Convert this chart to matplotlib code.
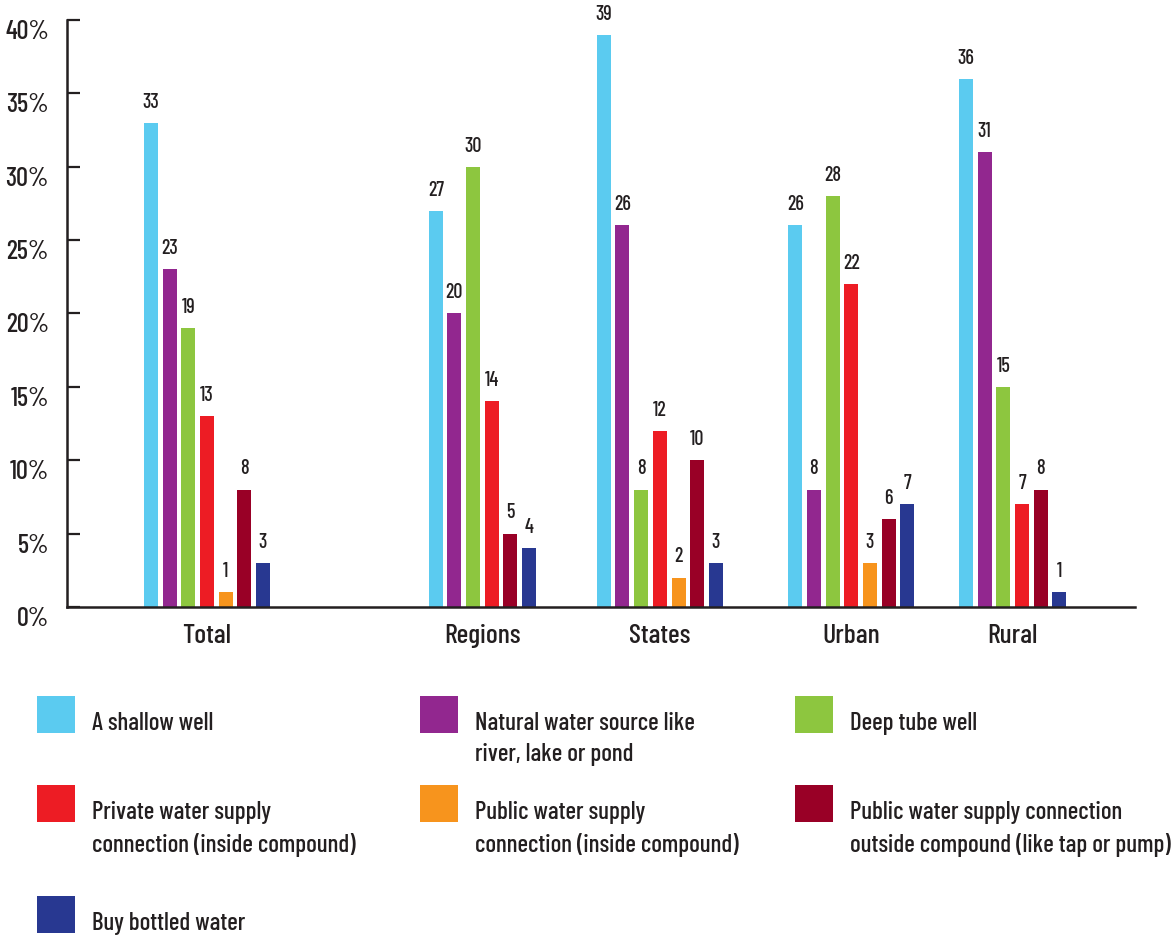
import matplotlib
matplotlib.use('Agg')
import matplotlib.pyplot as plt
from matplotlib.patches import Rectangle

plt.rcParams['font.family'] = ['Barlow Condensed', 'DejaVu Sans']
plt.rcParams['font.weight'] = 500

# ---- data ----
groups = ['Total', 'Regions', 'States', 'Urban', 'Rural']
series = [
    'A shallow well',
    'Natural water source like\nriver, lake or pond',
    'Deep tube well',
    'Private water supply\nconnection (inside compound)',
    'Public water supply\nconnection (inside compound)',
    'Public water supply connection\noutside compound (like tap or pump)',
    'Buy bottled water',
]
shallow_well = [33, 27, 39, 26, 36]
natural_source = [23, 20, 26, 8, 31]
deep_tube = [19, 30, 8, 28, 15]
private_inside = [13, 14, 12, 22, 7]
public_inside = [1, None, 2, 3, None]
public_outside = [8, 5, 10, 6, 8]
bottled = [3, 4, 3, 7, 1]
values = [shallow_well, natural_source, deep_tube, private_inside,
          public_inside, public_outside, bottled]
colors = ['#5BCBF0', '#92278F', '#8DC63F', '#ED1C24', '#F7941D', '#990026', '#283891']
yticks = [0, 5, 10, 15, 20, 25, 30, 35, 40]

txt = '#231F20'

fig = plt.figure(figsize=(11.75, 9.41), dpi=100)
ax = fig.add_axes([0.057, 0.355, 0.909, 0.6238])

# x position of first bar of every group; bars step by 1, missing ones are skipped
group_start = [4.5, 19.75, 28.75, 39.0, 48.15]
centers = []
for g in range(len(groups)):
    x = group_start[g]
    xs = []
    for s in range(len(series)):
        v = values[s][g]
        if v is None:
            continue
        ax.bar(x, v, width=0.75, color=colors[s], zorder=2)
        ax.annotate(str(v), (x, v), xytext=(0, 8), textcoords='offset points',
                    ha='center', va='bottom', fontsize=14.5, color=txt)
        xs.append(x)
        x += 1
    centers.append((xs[0] + xs[-1]) / 2)

ax.set_xlim(0, 57.2)
ax.set_ylim(0, 40)
ax.set_yticks(yticks)
ax.set_yticklabels([f'{t}%' for t in yticks])
ax.set_xticks(centers)
ax.set_xticklabels(groups)
for lbl in ax.get_yticklabels():
    lbl.set_va('top')

ax.tick_params(axis='y', direction='in', length=9.5, width=1.6, color=txt,
               labelsize=19, labelcolor=txt, pad=13)
ax.tick_params(axis='x', length=0, labelsize=20, labelcolor=txt, pad=12)
for side in ['top', 'right']:
    ax.spines[side].set_visible(False)
for side in ['left', 'bottom']:
    ax.spines[side].set_linewidth(1.8)
    ax.spines[side].set_color(txt)

# ---- legend (3 columns) ----
W, H = 1175.0, 941.0
col_x = [37, 420, 795]
row_y = [696, 785, 896]
for i, name in enumerate(series):
    cx = col_x[i % 3]
    ry = row_y[i // 3]
    fig.add_artist(Rectangle((cx / W, 1 - (ry + 37) / H), 38 / W, 37 / H,
                             transform=fig.transFigure, color=colors[i], lw=0))
    fig.text((cx + 55) / W, 1 - (ry + 16) / H, name, ha='left', va='top',
             fontsize=18, color=txt, linespacing=1.45)

fig.savefig('out.png', dpi=100)
